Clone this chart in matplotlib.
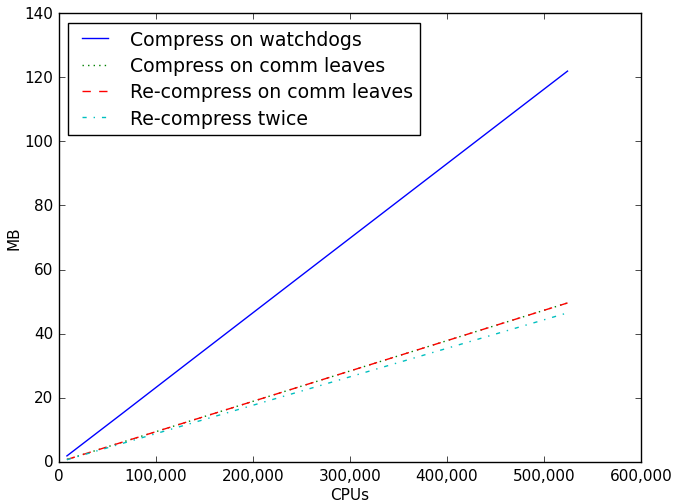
import matplotlib
matplotlib.use("Agg")
import matplotlib.pyplot as plt
from matplotlib.ticker import FuncFormatter

plt.style.use("classic")
plt.rcParams['font.size'] = 11

cpus = [8192, 16384, 32768, 65536, 131072, 262144, 524288]
watchdogs = [1.9, 3.8, 7.6, 15.2, 30.5, 61.0, 121.9]
comm_leaves = [0.78, 1.55, 3.1, 6.2, 12.4, 24.8, 49.6]
recomp_leaves = [0.78, 1.55, 3.1, 6.2, 12.4, 24.8, 49.6]
recomp_twice = [0.73, 1.45, 2.9, 5.8, 11.6, 23.2, 46.5]

fig = plt.figure(figsize=(6.74, 5.02), dpi=100)
ax = fig.add_axes([0.0875, 0.0777, 0.8635, 0.8943])

ax.plot(cpus, watchdogs, 'b-', label='Compress on watchdogs')
ax.plot(cpus, comm_leaves, 'g:', label='Compress on comm leaves')
ax.plot(cpus, recomp_leaves, 'r--', label='Re-compress on comm leaves')
ax.plot(cpus, recomp_twice, 'c-.', label='Re-compress twice')

ax.set_xlim(0, 600000)
ax.set_ylim(0, 140)
ax.xaxis.set_major_formatter(FuncFormatter(lambda v, p: '{:,}'.format(int(v))))
ax.set_xlabel('CPUs', labelpad=3)
ax.set_ylabel('MB', labelpad=2)
ax.legend(loc='upper left', prop={'size': 13.6}, labelspacing=0.38,
          handletextpad=0.85, borderaxespad=0.5)

fig.savefig('out.png', dpi=100)
